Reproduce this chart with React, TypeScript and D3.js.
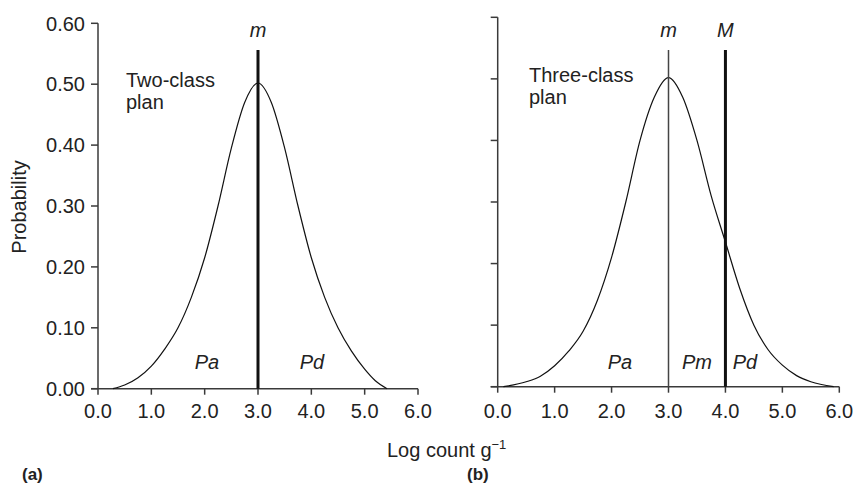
import React from "react";
import * as d3 from "d3";

const xTicks = [0, 1, 2, 3, 4, 5, 6];
const yTicks = [0, 0.1, 0.2, 0.3, 0.4, 0.5, 0.6];

const leftX = [0.28, 0.5, 0.75, 1.0, 1.25, 1.5, 1.75, 2.0, 2.25, 2.5, 2.75, 3.0, 3.25, 3.5, 3.75, 4.0, 4.25, 4.5, 4.75, 5.0, 5.2, 5.42];
const leftY = [0, 0.006, 0.018, 0.037, 0.065, 0.1, 0.15, 0.215, 0.3, 0.395, 0.47, 0.502, 0.47, 0.395, 0.3, 0.215, 0.15, 0.1, 0.062, 0.032, 0.013, 0];

const rightX = [0.1, 0.5, 0.75, 1.0, 1.25, 1.5, 1.75, 2.0, 2.25, 2.5, 2.75, 3.0, 3.25, 3.5, 3.75, 4.0, 4.25, 4.5, 4.75, 5.0, 5.25, 5.5, 5.9];
const rightY = [0, 0.008, 0.017, 0.034, 0.058, 0.09, 0.14, 0.21, 0.3, 0.4, 0.47, 0.502, 0.47, 0.4, 0.31, 0.235, 0.16, 0.1, 0.06, 0.035, 0.018, 0.008, 0];

const FONT = "'Liberation Sans', Arial, Helvetica, sans-serif";
const AX = "#3a3a3a";

function Panel({ x0, x1, y0, y1, xs, ys, showYLabels, children }: any) {
  const x = d3.scaleLinear().domain([0, 6]).range([x0, x1]);
  const y = d3.scaleLinear().domain([0, 0.6]).range([y0, y1]);
  const data = xs.map((v: number, i: number) => [v, ys[i]]);
  const line = d3.line<number[]>().x(d => x(d[0])).y(d => y(d[1])).curve(d3.curveMonotoneX);
  return (
    <g>
      <line x1={x0} x2={x0} y1={y1} y2={y0} stroke={AX} strokeWidth={1.5} />
      <line x1={x0 - 7} x2={x1} y1={y0} y2={y0} stroke={AX} strokeWidth={1.5} />
      {yTicks.map(t => (
        <g key={"y" + t}>
          <line x1={x0 - 7} x2={x0} y1={y(t)} y2={y(t)} stroke={AX} strokeWidth={1.5} />
          {showYLabels && (
            <text x={x0 - 13} y={y(t)} dy="0.36em" textAnchor="end" fontSize={20} fill="#222">{t.toFixed(2)}</text>
          )}
        </g>
      ))}
      {xTicks.map(t => (
        <g key={"x" + t}>
          <line x1={x(t)} x2={x(t)} y1={y0} y2={y0 + 6} stroke={AX} strokeWidth={1.5} />
          <text x={x(t)} y={418} textAnchor="middle" fontSize={20} fill="#222">{t.toFixed(1)}</text>
        </g>
      ))}
      <path d={line(data) || ""} fill="none" stroke="#111" strokeWidth={1.2} />
      {children(x, y)}
    </g>
  );
}

export default function App() {
  return (
    <svg width={854} height={487} style={{ display: "block", position: "absolute", left: 0, top: 0 }} fontFamily={FONT}>
      <rect width={854} height={487} fill="#fff" />
      <Panel x0={98} x1={418} y0={388.7} y1={23.3} xs={leftX} ys={leftY} showYLabels={true}>
        {(x: any, y: any) => (
          <g>
            <line x1={x(3)} x2={x(3)} y1={50} y2={y(0)} stroke="#111" strokeWidth={3} />
            <text x={x(3)} y={37} textAnchor="middle" fontSize={20} fontStyle="italic" fill="#222">m</text>
            <text x={126} y={87} fontSize={20} fill="#222">Two-class</text>
            <text x={126} y={109} fontSize={20} fill="#222">plan</text>
            <text x={207} y={369} textAnchor="middle" fontSize={20} fontStyle="italic" fill="#222">Pa</text>
            <text x={312} y={369} textAnchor="middle" fontSize={20} fontStyle="italic" fill="#222">Pd</text>
          </g>
        )}
      </Panel>
      <Panel x0={497.7} x1={839.3} y0={386.7} y1={17.3} xs={rightX} ys={rightY} showYLabels={false}>
        {(x: any, y: any) => (
          <g>
            <line x1={x(3)} x2={x(3)} y1={50} y2={y(0)} stroke="#444" strokeWidth={1.5} />
            <line x1={x(4)} x2={x(4)} y1={50} y2={y(0)} stroke="#111" strokeWidth={3} />
            <text x={x(3)} y={37} textAnchor="middle" fontSize={20} fontStyle="italic" fill="#222">m</text>
            <text x={x(4)} y={37} textAnchor="middle" fontSize={20} fontStyle="italic" fill="#222">M</text>
            <text x={529} y={82} fontSize={20} fill="#222">Three-class</text>
            <text x={529} y={104} fontSize={20} fill="#222">plan</text>
            <text x={620} y={369} textAnchor="middle" fontSize={20} fontStyle="italic" fill="#222">Pa</text>
            <text x={697} y={369} textAnchor="middle" fontSize={20} fontStyle="italic" fill="#222">Pm</text>
            <text x={745} y={369} textAnchor="middle" fontSize={20} fontStyle="italic" fill="#222">Pd</text>
          </g>
        )}
      </Panel>
      <text transform="translate(26,207) rotate(-90)" textAnchor="middle" fontSize={20} fill="#222">Probability</text>
      <text x={387} y={457} fontSize={20} fill="#222">Log count g<tspan dy={-8} fontSize={13}>−1</tspan></text>
      <text x={22} y={480} fontSize={17} fontWeight="bold" fill="#222">(a)</text>
      <text x={467} y={480} fontSize={17} fontWeight="bold" fill="#222">(b)</text>
    </svg>
  );
}
